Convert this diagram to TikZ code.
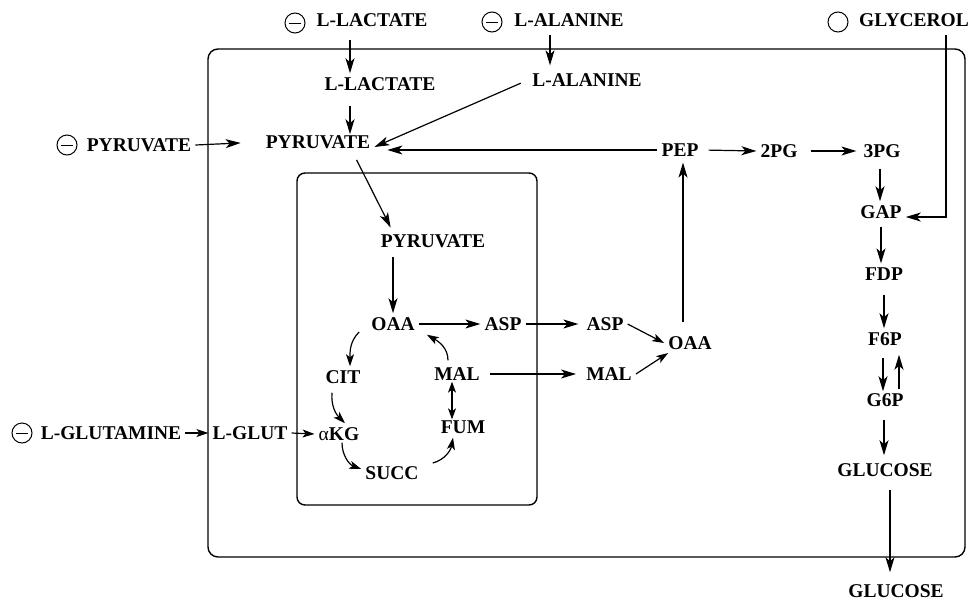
\documentclass[tikz,border=0pt]{standalone}
\usepackage{fontspec}
\setmainfont{Liberation Serif}
\usetikzlibrary{arrows.meta}

\begin{document}
\begin{tikzpicture}[x=1pt, y=-1pt,
	met/.style={font=\fontsize{19.5}{22}\selectfont\bfseries, inner sep=4pt},
	minus/.style={circle, draw, line width=1pt, minimum size=20pt, inner sep=0pt,
		path picture={\draw[line width=1pt] ([xshift=-6pt]path picture bounding box.center)
			-- ([xshift=6pt]path picture bounding box.center);}},
	open/.style={circle, draw, line width=1pt, minimum size=20pt, inner sep=0pt},
	wall/.style={draw, line width=1.4pt, rounded corners=10pt},
	arr/.style={-{Stealth[length=15pt, width=9pt, inset=4pt]}, line width=1.2pt},
	arrs/.style={-{Stealth[length=12pt, width=8pt, inset=3pt]}, line width=1.2pt},
	dbl/.style={{Stealth[length=11pt, width=8pt, inset=3pt]}-{Stealth[length=11pt, width=8pt, inset=3pt]}, line width=1.2pt}
]
	\useasboundingbox (0,0) rectangle (975,600);

	% cell and mitochondrion
	\draw[wall] (208,49) rectangle (965,557);
	\draw[wall, rounded corners=8pt] (297,173) rectangle (537,505);

	% substrates outside the cell
	\node[minus] (m1)   at (295,23)  {};
	\node[met]   (lacE) at (372,20)  {L-LACTATE};
	\node[minus] (m2)   at (492,22)  {};
	\node[met]   (alaE) at (569,20)  {L-ALANINE};
	\node[open]  (o1)   at (838,22)  {};
	\node[met]   (glyE) at (914,20)  {GLYCEROL};
	\node[minus] (m3)   at (67,145)  {};
	\node[met]   (pyrE) at (139,145) {PYRUVATE};
	\node[minus] (m4)   at (22,433)  {};
	\node[met]   (glnE) at (111,433) {L-GLUTAMINE};
	\node[met]   (glcE) at (896,591) {GLUCOSE};

	% cytosol
	\node[met] (lac)  at (380,84)  {L-LACTATE};
	\node[met] (ala)  at (587,80)  {L-ALANINE};
	\node[met] (pyr)  at (318,142) {PYRUVATE};
	\node[met] (pep)  at (680,150) {PEP};
	\node[met] (pg2)  at (779,151) {2PG};
	\node[met] (pg3)  at (882,151) {3PG};
	\node[met] (gap)  at (881,212) {GAP};
	\node[met] (fdp)  at (884,274) {FDP};
	\node[met] (f6p)  at (885,339) {F6P};
	\node[met] (g6p)  at (885,400) {G6P};
	\node[met] (glc)  at (885,470) {GLUCOSE};
	\node[met] (glut) at (250,433) {L-GLUT};
	\node[met] (aspC) at (605,324) {ASP};
	\node[met] (oaaC) at (690,343) {OAA};
	\node[met] (malC) at (609,374) {MAL};

	% mitochondrion
	\node[met] (pyrM) at (433,241) {PYRUVATE};
	\node[met] (oaaM) at (393,324) {OAA};
	\node[met] (aspM) at (503,324) {ASP};
	\node[met] (cit)  at (343,377) {CIT};
	\node[met] (malM) at (457,374) {MAL};
	\node[met] (akg)  at (339,434) {{\mdseries α}KG};
	\node[met] (fum)  at (463,427) {FUM};
	\node[met] (succ) at (392,473) {SUCC};

	% uptake
	\draw[arr, shorten <=9pt] ([xshift=-22pt]lacE.south) -- ([xshift=-30pt]lac.north);
	\draw[arr, shorten <=4pt, shorten >=4pt] ([xshift=-19pt]alaE.south) -- ([xshift=-37pt]ala.north);
	\draw[arr, shorten >=21pt] (pyrE.east) -- (pyr.west);
	\draw[arrs] (glnE.east) -- (glut.west);
	\draw[arrs] (glut.east) -- (akg.west);
	\draw[arr, shorten <=4pt] ([xshift=32pt]glyE.south) |- ([yshift=-5pt]gap.east);

	% to pyruvate
	\draw[arr, shorten <=11pt, shorten >=-3pt] ([xshift=-30pt]lac.south) -- ([xshift=32pt]pyr.north);
	\draw[arr, shorten <=8pt] (ala.west) -- ([yshift=-5pt]pyr.east);
	\draw[arr, shorten >=13pt] (pep.west) -- (pyr.east |- pep.west);
	\draw[arr, shorten <=8pt, shorten >=3pt] ([xshift=35pt]pyr.south) -- ([xshift=-41pt]pyrM.north);

	% gluconeogenesis
	\draw[arr, shorten <=6pt] (pep.east) -- (pg2.west);
	\draw[arr, shorten <=9pt, shorten >=3pt] (pg2.east) -- (pg3.west);
	\draw[arr, shorten <=7pt] ([xshift=-2pt]pg3.south) -- ([xshift=-1pt]gap.north);
	\draw[arr, shorten <=4pt] (gap.south) -- (gap.south |- fdp.north);
	\draw[arr, shorten <=10pt] (fdp.south) -- (fdp.south |- f6p.north);
	\draw[arr, shorten <=8pt, shorten >=-2pt] ([xshift=-2pt]f6p.south) -- ([xshift=-2pt]g6p.north);
	\draw[arr, shorten >=5pt] ([xshift=14pt]g6p.north) -- ([xshift=14pt]f6p.south);
	\draw[arr, shorten <=9pt, shorten >=4pt] ([xshift=-1pt]g6p.south) -- ([xshift=-1pt]glc.north);
	\draw[arr, shorten <=9pt, shorten >=8pt] ([xshift=5pt]glc.south) -- ([xshift=5pt]glc.south |- glcE.north);

	% mitochondrial reactions
	\draw[arr, shorten <=5pt] (oaaM.north |- pyrM.south) -- (oaaM.north);
	\draw[arr] (oaaM.east) -- (aspM.west);
	\draw[arr, shorten >=4pt] (aspM.east) -- (aspC.west);
	\draw[arr, shorten <=6pt, shorten >=6pt] (malM.east) -- (malC.west);
	\draw[arrs] ([xshift=-8pt, yshift=-8pt]oaaM.west) to[out=-135, in=90] ([xshift=7pt]cit.north);
	\draw[arrs] ([xshift=-11pt, yshift=-5pt]cit.south) to[out=-95, in=135] ([xshift=6pt]akg.north);
	\draw[arrs] ([xshift=3pt, yshift=2pt]akg.south) to[out=-90, in=160] ([yshift=4pt]succ.west);
	\draw[arrs] ([xshift=10pt, yshift=10pt]succ.east) to[out=15, in=-100] ([xshift=-10pt]fum.south);
	\draw[dbl, shorten <=-3pt, shorten >=-3pt] ([xshift=-5pt]malM.south) -- ([xshift=-5pt]malM.south |- fum.north);
	\draw[arrs] ([xshift=-9pt, yshift=3pt]malM.north) to[out=90, in=-30] ([xshift=8pt]oaaM.south east);

	% back to PEP
	\draw[arrs] (aspC.east) -- (oaaC.west);
	\draw[arrs] (malC.east) -- ([xshift=4pt, yshift=-10pt]oaaC.west);
	\draw[arr, shorten <=10pt, shorten >=2pt] ([xshift=-7pt]oaaC.north) -- ([xshift=3pt]pep.south);
\end{tikzpicture}
\end{document}
